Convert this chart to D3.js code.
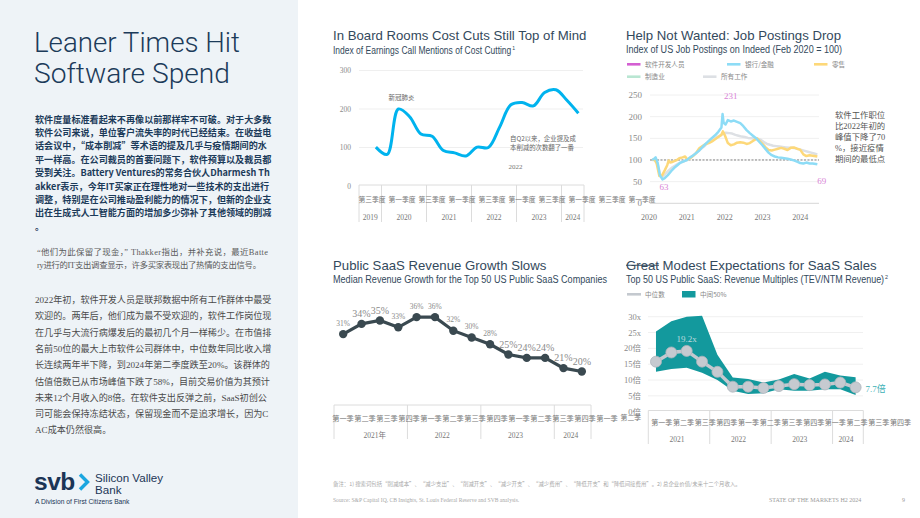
<!DOCTYPE html>
<html>
<head>
<meta charset="utf-8">
<script src="https://cdn.jsdelivr.net/npm/d3@7"></script>
<style>
body { margin: 0; background: #fff; }
svg { display: block; }
</style>
</head>
<body>
<div id="page"></div>
<script>
// ---------- text on the left
var pageTitle = ["Leaner Times Hit", "Software Spend"];
var introLines = [
    "软件度量标准看起来不再像以前那样牢不可破。对于大多数",
    "软件公司来说，单位客户流失率的时代已经结束。在收益电",
    "话会议中，“成本削减”等术语的提及几乎与疫情期间的水",
    "平一样高。在公司裁员的首要问题下，软件预算以及裁员都",
    "受到关注。Battery Ventures的常务合伙人Dharmesh Th",
    "akker表示，今年IT买家正在理性地对一些技术的支出进行",
    "调整，特别是在公司推动盈利能力的情况下，但新的企业支",
    "出在生成式人工智能方面的增加多少弥补了其他领域的削减",
    "。"
];
var quoteLines = [
    "“他们为此保留了现金，” Thakker指出，并补充说，最近Batte",
    "ry进行的IT支出调查显示，许多买家表现出了热情的支出信号。"
];
var bodyLines = [
    "2022年初，软件开发人员是联邦数据中所有工作群体中最受",
    "欢迎的。两年后，他们成为最不受欢迎的，软件工作岗位现",
    "在几乎与大流行病爆发后的最初几个月一样稀少。在市值排",
    "名前50位的最大上市软件公司群体中，中位数年同比收入增",
    "长连续两年半下降，到2024年第二季度跌至20%。该群体的",
    "估值倍数已从市场峰值下跌了58%，目前交易价值为其预计",
    "未来12个月收入的8倍。在软件支出反弹之前，SaaS初创公",
    "司可能会保持冻结状态，保留现金而不是追求增长，因为C",
    "AC成本仍然很高。"
];

// ---------- chart 1: earnings call mentions of cost cutting
var costQuarters = ["2019Q3","2019Q4","2020Q1","2020Q2","2020Q3","2020Q4","2021Q1","2021Q2","2021Q3","2021Q4",
                    "2022Q1","2022Q2","2022Q3","2022Q4","2023Q1","2023Q2","2023Q3","2023Q4","2024Q1","2024Q2"];
var costValues = [null, 101, 82, 200, 180, 135, 129, 92, 86, 78, 101, 100, 153, 211, 217, 208, 243, 250, 222, 189];
var costYears = ["2019","2020","2021","2022","2023","2024"];
var costTicks = [0, 100, 200, 300];
var costAxisLabels = ["第三季度","第一季度","第三季度","第一季度","第三季度","第一季度","第三季度","第一季度","第三季度","第一季度"];

// ---------- chart 2: job postings on Indeed
var jobLegend = ["软件开发人员","银行/金融","零售","制造业","所有工作"];
var bankPostings = [
    ["2020-02-01",100],["2020-02-20",103],["2020-03-05",106],["2020-03-25",93],["2020-04-15",65],["2020-05-10",55],
    ["2020-06-01",58],["2020-07-01",65],["2020-08-01",74],["2020-09-01",82],["2020-10-01",88],["2020-11-01",94],
    ["2020-12-01",97],["2021-01-01",100],["2021-02-01",106],["2021-03-01",110],["2021-04-01",116],["2021-05-01",122],
    ["2021-06-01",130],["2021-07-01",137],["2021-08-01",144],["2021-09-01",151],["2021-10-01",157],["2021-11-01",165],
    ["2021-12-01",175],["2021-12-12",206],["2021-12-22",186],["2022-01-10",182],["2022-02-01",192],["2022-03-01",189],
    ["2022-04-01",191],["2022-05-01",188],["2022-06-01",185],["2022-07-01",178],["2022-08-01",169],["2022-09-01",162],
    ["2022-10-01",156],["2022-11-01",150],["2022-12-01",142],["2023-01-01",134],["2023-02-01",125],["2023-03-01",117],
    ["2023-04-01",111],["2023-05-01",108],["2023-06-01",106],["2023-07-01",105],["2023-08-01",104],["2023-09-01",103],
    ["2023-10-01",101],["2023-11-01",99],["2023-12-01",96],["2024-01-01",93],["2024-02-01",92],["2024-03-01",94],
    ["2024-04-01",92],["2024-05-01",92],["2024-06-15",90]
];
var retailPostings = [
    ["2020-02-01",101],["2020-02-25",100],["2020-03-15",92],["2020-04-10",63],["2020-05-05",64],["2020-06-01",76],
    ["2020-06-25",88],["2020-07-10",99],["2020-07-25",94],["2020-08-20",96],["2020-09-20",99],["2020-10-20",104],
    ["2020-11-20",106],["2020-12-15",108],["2021-01-05",101],["2021-02-01",104],["2021-03-01",109],["2021-04-01",116],
    ["2021-05-01",127],["2021-06-01",132],["2021-07-01",137],["2021-08-01",139],["2021-09-01",143],["2021-10-01",148],
    ["2021-11-01",153],["2021-12-01",158],["2021-12-15",166],["2022-01-05",156],["2022-02-01",139],["2022-03-01",134],
    ["2022-04-01",136],["2022-05-01",140],["2022-06-01",141],["2022-07-01",140],["2022-08-01",137],["2022-09-01",139],
    ["2022-10-01",144],["2022-11-10",150],["2022-12-01",145],["2023-01-01",137],["2023-02-01",129],["2023-03-01",123],
    ["2023-04-01",122],["2023-05-01",124],["2023-06-01",126],["2023-07-01",128],["2023-08-01",126],["2023-09-01",123],
    ["2023-10-01",128],["2023-11-01",129],["2023-12-01",126],["2024-01-01",124],["2024-02-01",113],["2024-03-01",109],
    ["2024-04-01",111],["2024-05-01",110],["2024-06-15",108]
];
var allPostings = [
    ["2020-02-01",100],["2020-03-01",100],["2020-03-25",90],["2020-04-20",63],["2020-05-15",62],["2020-06-15",70],
    ["2020-07-15",77],["2020-08-15",83],["2020-09-15",88],["2020-10-15",92],["2020-11-15",95],["2020-12-15",98],
    ["2021-01-15",101],["2021-02-15",107],["2021-03-15",113],["2021-04-15",119],["2021-05-15",125],["2021-06-15",131],
    ["2021-07-15",138],["2021-08-15",143],["2021-09-15",148],["2021-10-15",152],["2021-11-15",156],["2021-12-15",160],
    ["2022-01-15",163],["2022-02-15",162],["2022-03-15",161],["2022-04-15",158],["2022-05-15",156],["2022-06-15",154],
    ["2022-07-15",153],["2022-08-15",151],["2022-09-15",150],["2022-10-15",150],["2022-11-15",149],["2022-12-15",147],
    ["2023-01-15",141],["2023-02-15",137],["2023-03-15",135],["2023-04-15",133],["2023-05-15",132],["2023-06-15",131],
    ["2023-07-15",130],["2023-08-15",129],["2023-09-15",128],["2023-10-15",128],["2023-11-15",127],["2023-12-15",125],
    ["2024-01-15",123],["2024-02-15",121],["2024-03-15",119],["2024-04-15",117],["2024-05-15",115],["2024-06-15",113]
];
var devCallouts = [["2022-03-01",231],["2020-05-25",63],["2024-07-28",69]];
var jobTicks = [0, 50, 100, 150, 200, 250];
var jobYears = [2020, 2021, 2022, 2023, 2024];
var jobNote = ["软件工作职位","比2022年初的","峰值下降了70","%，接近疫情","期间的最低点"];

// ---------- chart 3: median revenue growth
var revQuarters = ["2021Q1","2021Q2","2021Q3","2021Q4","2022Q1","2022Q2","2022Q3","2022Q4",
                   "2023Q1","2023Q2","2023Q3","2023Q4","2024Q1","2024Q2"];
var revGrowth = [31, 34, 35, 33, 36, 36, 32, 30, 28, 25, 24, 24, 21, 20];
var revYears = ["2021年","2022","2023","2024"];
var revAxisLabels = ["第一季","第二季","第三季","第四季","第一季","第二季","第三季","第四季","第一季","第二季","第三季","第四季","第一季"];

// ---------- chart 4: revenue multiples
var multQuarters = revQuarters.slice();
var multMedian = [15.8, 18.7, 19.2, 15.8, 12.6, 7.9, 7.9, 7.5, 8.1, 8.7, 8.4, 8.6, 9.2, 7.7];
var multHigh = [25.3, 28.6, 30.0, 30.3, 18.0, 10.8, 10.3, 9.2, 10.2, 11.9, 10.5, 12.6, 11.4, 10.9];
var multLow = [12.6, 13.5, 13.9, 12.3, 10.0, 6.6, 5.6, 5.8, 7.1, 6.6, 6.6, 7.1, 7.1, 5.3];
var multTicks = [0, 5, 10, 15, 20, 25, 30];
var multTickText = ["0倍","5倍","10倍","15倍","20倍","25x","30x"];
var multYears = ["2021","2022","2023","2024"];
var multAxisLabels = ["第一季","第二季","第三季","第四季","第一季","第二季","第三季","第四季","第一季","第二季","第三季","第四季"];

var sans = '"Liberation Sans", Arial, sans-serif';
var serif = '"Liberation Serif", "Noto Sans CJK SC", serif';
var cjk = '"Noto Sans CJK SC", sans-serif';
var navy = "#1c3b5a", slate = "#33495c", axisGrey = "#8a8a8a", boxLine = "#dcdcdc";

var svg = d3.select("#page").append("svg").attr("width", 920).attr("height", 518);

function txt(x, y, s, size, family, fill) {
    return svg.append("text").attr("x", x).attr("y", y)
        .attr("font-size", size).attr("font-family", family).attr("fill", fill).text(s);
}

// ---------- left panel
svg.append("rect").attr("width", 298).attr("height", 518).attr("fill", "#eef3f7");

svg.selectAll(".ptitle").data(pageTitle).enter().append("text")
    .attr("x", 34).attr("y", function(d, i) { return 52 + i * 31; })
    .attr("font-family", '"Roboto", "Liberation Sans", sans-serif').attr("font-weight", 300)
    .attr("font-size", 27.5).attr("fill", navy)
    .attr("textLength", function(d, i) { return i ? 196 : 206; }).attr("lengthAdjust", "spacingAndGlyphs")
    .text(function(d) { return d; });

svg.selectAll(".intro").data(introLines).enter().append("text")
    .attr("x", 35).attr("y", function(d, i) { return 122.5 + i * 13.4; })
    .attr("font-family", cjk).attr("font-size", 9.1).attr("font-weight", "bold").attr("fill", navy)
    .text(function(d) { return d; });

svg.selectAll(".quote").data(quoteLines).enter().append("text")
    .attr("x", 37).attr("y", function(d, i) { return 255 + i * 12.5; })
    .attr("font-family", serif).attr("font-size", 8.4).attr("fill", "#5a5a5a")
    .attr("textLength", function(d, i) { return i ? 224 : 231; }).attr("lengthAdjust", "spacing")
    .text(function(d) { return d; });

svg.selectAll(".body").data(bodyLines).enter().append("text")
    .attr("x", 35).attr("y", function(d, i) { return 303 + i * 16.3; })
    .attr("font-family", serif).attr("font-size", 9.1).attr("fill", "#4a4a4a")
    .text(function(d) { return d; });

// logo
txt(34, 490, "svb", 24.5, sans, "#1b3556").attr("font-weight", "bold").attr("letter-spacing", -0.5);
svg.append("path").attr("d", "M80,474.5 L87.5,482 L80,489.5")
    .attr("fill", "none").attr("stroke", "#1ba6e0").attr("stroke-width", 3.4);
txt(95, 482, "Silicon Valley", 11.6, sans, "#1b3556");
txt(95, 493.5, "Bank", 11.6, sans, "#1b3556");
txt(35, 504.3, "A Division of First Citizens Bank", 6.7, sans, "#1b3556");

// ---------- chart titles (subtitle footnote marks ride along as tspans)
function subtitle(x, y, sub, sup, width) {
    var t = txt(x, y, sub, 10, sans, slate)
        .attr("textLength", width).attr("lengthAdjust", "spacingAndGlyphs");
    if (sup) {
        t.append("tspan").attr("dx", 1).attr("dy", -4).attr("font-size", 6).text(sup);
    }
    return t;
}
txt(333, 40.3, "In Board Rooms Cost Cuts Still Top of Mind", 13.2, sans, slate);
subtitle(333, 53.8, "Index of Earnings Call Mentions of Cost Cutting", "1", 182);
txt(626, 39.7, "Help Not Wanted: Job Postings Drop", 13.2, sans, slate);
subtitle(626, 53.2, "Index of US Job Postings on Indeed (Feb 2020 = 100)", null, 216);
txt(333, 269.7, "Public SaaS Revenue Growth Slows", 13.2, sans, slate);
subtitle(333, 283.2, "Median Revenue Growth for the Top 50 US Public SaaS Companies", null, 274);

// "Great" struck through, then the rest of the title
var great = txt(626, 269.7, "Great", 13.2, sans, slate);
var gw = great.node().getComputedTextLength();
svg.append("line").attr("x1", 626).attr("x2", 626 + gw).attr("y1", 265.3).attr("y2", 265.3)
    .attr("stroke", slate).attr("stroke-width", 1.1);
txt(626 + gw + 3.6, 269.7, "Modest Expectations for SaaS Sales", 13.2, sans, slate);
subtitle(626, 283.2, "Top 50 US Public SaaS: Revenue Multiples (TEV/NTM Revenue)", "2", 262);

// ---------- chart 1
var c1x = d3.scaleBand().domain(costQuarters).range([359, 584]);
var c1y = d3.scaleLinear().domain([0, 300]).range([186, 70.5]);
var g1 = svg.append("g");

g1.selectAll(".grid").data(costTicks.slice(1)).enter().append("line")
    .attr("x1", 359).attr("x2", 583)
    .attr("y1", function(d) { return c1y(d); }).attr("y2", function(d) { return c1y(d); })
    .attr("stroke", "#efefef").attr("stroke-width", 1);
g1.selectAll(".tick").data(costTicks).enter().append("text")
    .attr("x", 351).attr("y", function(d) { return c1y(d) + 2.6; })
    .attr("text-anchor", "end").attr("font-family", serif).attr("font-size", 7.5).attr("fill", axisGrey)
    .text(function(d) { return d; });

g1.append("line").attr("x1", 359).attr("x2", 584).attr("y1", 185).attr("y2", 185)
    .attr("stroke", boxLine);
costYears.forEach(function(yr, i) {
    var qs = costQuarters.filter(function(q) { return q.slice(0, 4) === yr; });
    var x0 = c1x(qs[0]), x1 = c1x(qs[qs.length - 1]) + c1x.bandwidth();
    g1.append("line").attr("x1", x0).attr("x2", x0).attr("y1", 185).attr("y2", 222).attr("stroke", boxLine);
    if (i === costYears.length - 1) {
        g1.append("line").attr("x1", x1).attr("x2", x1).attr("y1", 185).attr("y2", 222).attr("stroke", boxLine);
    }
    g1.append("text").attr("x", (x0 + x1) / 2).attr("y", 219.8).attr("text-anchor", "middle")
        .attr("font-family", serif).attr("font-size", 7.5).attr("fill", "#777").text(yr);
});
var c1lab = d3.scaleBand().domain(d3.range(costAxisLabels.length)).range([357, 657]);
g1.selectAll(".qlab").data(costAxisLabels).enter().append("text")
    .attr("x", function(d, i) { return c1lab(i) + c1lab.bandwidth() / 2; }).attr("y", 201.7)
    .attr("text-anchor", "middle").attr("font-family", cjk).attr("font-size", 6.8).attr("fill", "#777")
    .text(function(d) { return d; });

var costLine = d3.line()
    .defined(function(d) { return d != null; })
    .x(function(d, i) { return c1x(costQuarters[i]) + c1x.bandwidth() / 2; })
    .y(function(d) { return c1y(d); })
    .curve(d3.curveCatmullRom);
g1.append("path").attr("d", costLine(costValues))
    .attr("fill", "none").attr("stroke", "#00b3ee").attr("stroke-width", 3);

txt(c1x("2020Q2") + c1x.bandwidth() / 2 + 3, 99.5, "新冠肺炎", 6.5, cjk, "#666").attr("text-anchor", "middle");
txt(510, 141.3, "自Q2以来，企业提及成", 6.4, cjk, "#666");
txt(510, 150, "本削减的次数翻了一番", 6.4, cjk, "#666");
txt(508.5, 168.5, "2022", 7, serif, "#777");

// ---------- chart 2
var parseDay = d3.timeParse("%Y-%m-%d");
var c2x = d3.scaleTime().domain([new Date(2020, 0, 1), new Date(2024, 6, 1)]).range([649, 819]);
var c2y = d3.scaleLinear().domain([0, 250]).range([203.3, 95]);
var g2 = svg.append("g");

g2.selectAll(".grid").data(jobTicks.slice(1)).enter().append("line")
    .attr("x1", 650).attr("x2", 819)
    .attr("y1", function(d) { return c2y(d); }).attr("y2", function(d) { return c2y(d); })
    .attr("stroke", "#f0f0f0");
g2.append("line").attr("x1", 650).attr("x2", 819).attr("y1", c2y(0)).attr("y2", c2y(0)).attr("stroke", "#d6d6d6");
g2.selectAll(".tick").data(jobTicks).enter().append("text")
    .attr("x", 642).attr("y", function(d) { return c2y(d) + 3; })
    .attr("text-anchor", "end").attr("font-family", serif).attr("font-size", 9).attr("fill", axisGrey)
    .text(function(d) { return d; });
g2.selectAll(".year").data(jobYears).enter().append("text")
    .attr("x", function(d) { return c2x(new Date(d, 0, 1)); }).attr("y", 219.5)
    .attr("text-anchor", "middle").attr("font-family", serif).attr("font-size", 8).attr("fill", "#777")
    .text(function(d) { return d; });
g2.append("line").attr("x1", 650).attr("x2", 819).attr("y1", c2y(100)).attr("y2", c2y(100))
    .attr("stroke", "#666").attr("stroke-width", 0.8).attr("stroke-dasharray", "2,1.5");

var jobLine = d3.line()
    .x(function(d) { return c2x(parseDay(d[0])); })
    .y(function(d) { return c2y(d[1]); });
[[allPostings, "#dde0e4"], [retailPostings, "#fdd879"], [bankPostings, "#8ddcf6"]].forEach(function(s) {
    g2.append("path").attr("d", jobLine(s[0])).attr("fill", "none")
        .attr("stroke", s[1]).attr("stroke-width", 2.5).attr("stroke-linejoin", "round");
});

// legend
var legendColors = ["#d45fd2", "#8ddcf6", "#fdd879", "#b9e6d2", "#dde0e4"];
var legendPos = [[627, 64.3], [727, 64.3], [814, 64.3], [627, 76.7], [703, 76.7]];
jobLegend.forEach(function(name, i) {
    var p = legendPos[i];
    g2.append("line").attr("x1", p[0]).attr("x2", p[0] + 13.5).attr("y1", p[1]).attr("y2", p[1])
        .attr("stroke", legendColors[i]).attr("stroke-width", 2.6);
    g2.append("text").attr("x", p[0] + 18).attr("y", p[1] + 2.4)
        .attr("font-family", cjk).attr("font-size", 6.6).attr("fill", "#888").text(name);
});

// software developer callouts
var calloutDy = [-4.5, 14, 11];
g2.selectAll(".callout").data(devCallouts).enter().append("text")
    .attr("x", function(d) { return c2x(parseDay(d[0])); })
    .attr("y", function(d, i) { return c2y(d[1]) + calloutDy[i]; })
    .attr("text-anchor", "middle").attr("font-family", serif).attr("font-size", 9).attr("fill", "#d884d6")
    .text(function(d) { return d[1]; });

g2.selectAll(".note").data(jobNote).enter().append("text")
    .attr("x", 835).attr("y", function(d, i) { return 117.5 + i * 11.2; })
    .attr("font-family", serif).attr("font-size", 8.4).attr("fill", "#555")
    .text(function(d) { return d; });

// ---------- chart 3
var c3x = d3.scaleBand().domain(revQuarters).range([334, 591]);
var c3y = d3.scaleLinear().domain([10, 40]).range([405.5, 303.5]);
var g3 = svg.append("g");
var revBig = [1, 2, 9, 10, 11, 12, 13];

g3.append("line").attr("x1", 334).attr("x2", 591).attr("y1", 405).attr("y2", 405).attr("stroke", boxLine);
revYears.forEach(function(yr, i) {
    var qs = revQuarters.filter(function(q) { return q.slice(0, 4) === yr.slice(0, 4); });
    var x0 = c3x(qs[0]), x1 = c3x(qs[qs.length - 1]) + c3x.bandwidth();
    g3.append("line").attr("x1", x0).attr("x2", x0).attr("y1", 405).attr("y2", 439).attr("stroke", boxLine);
    if (i === revYears.length - 1) {
        g3.append("line").attr("x1", x1).attr("x2", x1).attr("y1", 405).attr("y2", 439).attr("stroke", boxLine);
    }
    g3.append("text").attr("x", (x0 + x1) / 2 + (i === 0 ? 4 : -2)).attr("y", 437.8).attr("text-anchor", "middle")
        .attr("font-family", serif).attr("font-size", 7.5).attr("fill", "#777").text(yr);
});
var c3lab = d3.scaleBand().domain(d3.range(revAxisLabels.length)).range([332, 618]);
g3.selectAll(".qlab").data(revAxisLabels).enter().append("text")
    .attr("x", function(d, i) { return c3lab(i) + c3lab.bandwidth() / 2; }).attr("y", 421)
    .attr("text-anchor", "middle").attr("font-family", cjk).attr("font-size", 7.2).attr("fill", "#777")
    .text(function(d) { return d; });

var revLine = d3.line()
    .x(function(d, i) { return c3x(revQuarters[i]) + c3x.bandwidth() / 2; })
    .y(function(d) { return c3y(d); });
g3.append("path").attr("d", revLine(revGrowth)).attr("fill", "none")
    .attr("stroke", "#3a4950").attr("stroke-width", 3.2);
g3.selectAll(".dot").data(revGrowth).enter().append("circle")
    .attr("cx", function(d, i) { return c3x(revQuarters[i]) + c3x.bandwidth() / 2; })
    .attr("cy", function(d) { return c3y(d); })
    .attr("r", 4.2).attr("fill", "#3a4950");
g3.selectAll(".vlab").data(revGrowth).enter().append("text")
    .attr("x", function(d, i) { return c3x(revQuarters[i]) + c3x.bandwidth() / 2; })
    .attr("y", function(d, i) { return c3y(d) - (revBig.indexOf(i) >= 0 ? 7 : 8.5); })
    .attr("text-anchor", "middle").attr("font-family", serif)
    .attr("font-size", function(d, i) { return revBig.indexOf(i) >= 0 ? 10 : 7.5; })
    .attr("fill", "#8a8a8a")
    .text(function(d) { return d + "%"; });

// ---------- chart 4
var c4x = d3.scaleBand().domain(multQuarters).range([648.3, 863.3]);
var c4y = d3.scaleLinear().domain([0, 30]).range([411.7, 316.7]);
var g4 = svg.append("g");
var cx4 = function(i) { return c4x(multQuarters[i]) + c4x.bandwidth() / 2; };

g4.selectAll(".grid").data(multTicks.slice(1)).enter().append("line")
    .attr("x1", 648).attr("x2", 863)
    .attr("y1", function(d) { return c4y(d); }).attr("y2", function(d) { return c4y(d); })
    .attr("stroke", "#f0f0f0");
g4.selectAll(".tick").data(multTicks).enter().append("text")
    .attr("x", 641).attr("y", function(d) { return c4y(d) + 3; })
    .attr("text-anchor", "end").attr("font-family", serif).attr("font-size", 8.5).attr("fill", axisGrey)
    .text(function(d, i) { return multTickText[i]; });
txt(641, 419.5, "第二季", 6.8, cjk, "#777").attr("text-anchor", "end");

g4.append("line").attr("x1", 648.3).attr("x2", 863.3).attr("y1", 410.5).attr("y2", 410.5).attr("stroke", boxLine);
multYears.forEach(function(yr, i) {
    var qs = multQuarters.filter(function(q) { return q.slice(0, 4) === yr; });
    var x0 = c4x(qs[0]), x1 = c4x(qs[qs.length - 1]) + c4x.bandwidth();
    g4.append("line").attr("x1", x0).attr("x2", x0).attr("y1", 410.5).attr("y2", 444).attr("stroke", boxLine);
    if (i === multYears.length - 1) {
        g4.append("line").attr("x1", x1).attr("x2", x1).attr("y1", 410.5).attr("y2", 444).attr("stroke", boxLine);
    }
    g4.append("text").attr("x", (x0 + x1) / 2 - 2).attr("y", 442).attr("text-anchor", "middle")
        .attr("font-family", serif).attr("font-size", 7.5).attr("fill", "#777").text(yr);
});
var c4lab = d3.scaleBand().domain(d3.range(multAxisLabels.length)).range([650.9, 911.3]);
g4.selectAll(".qlab").data(multAxisLabels).enter().append("text")
    .attr("x", function(d, i) { return c4lab(i) + c4lab.bandwidth() / 2; }).attr("y", 425.4)
    .attr("text-anchor", "middle").attr("font-family", cjk).attr("font-size", 7).attr("fill", "#777")
    .text(function(d) { return d; });

var band = d3.area()
    .x(function(d, i) { return cx4(i); })
    .y0(function(d, i) { return c4y(multLow[i]); })
    .y1(function(d) { return c4y(d); });
g4.append("path").attr("d", band(multHigh)).attr("fill", "#13999d");

var medLine = d3.line()
    .x(function(d, i) { return cx4(i); })
    .y(function(d) { return c4y(d); });
g4.append("path").attr("d", medLine(multMedian)).attr("fill", "none")
    .attr("stroke", "#c4c9cf").attr("stroke-width", 3.5);
g4.selectAll(".dot").data(multMedian).enter().append("circle")
    .attr("cx", function(d, i) { return cx4(i); }).attr("cy", function(d) { return c4y(d); })
    .attr("r", 5.5).attr("fill", "#c6cad0").attr("stroke", "#aeb5bc").attr("stroke-width", 0.8);

txt(cx4(2), c4y(multMedian[2]) - 9, multMedian[2] + "x", 9, serif, "#bcdadd").attr("text-anchor", "middle");
txt(cx4(13) + 10, c4y(multMedian[13]) + 4.5, multMedian[13] + "倍", 9, serif, "#3cb1b6");

// legend
g4.append("line").attr("x1", 627).attr("x2", 641).attr("y1", 294.3).attr("y2", 294.3)
    .attr("stroke", "#c4c9cf").attr("stroke-width", 2.6);
txt(645, 296.8, "中位数", 6.6, cjk, "#888");
g4.append("rect").attr("x", 682).attr("y", 291).attr("width", 13.5).attr("height", 6.5).attr("fill", "#13999d");
txt(700, 296.8, "中间50%", 6.6, cjk, "#888");

// ---------- footer
txt(333, 485.5, "备注：1) 搜索词包括“削减成本”、“减少支出”、“削减开支”、“减少开支”、“减少费用”、“降低开支”和“降低间接费用”。2) 总企业价值/未来十二个月收入。", 5.4, cjk, "#a8a8a8");
txt(333, 502, "Source: S&P Capital IQ, CB Insights, St. Louis Federal Reserve and SVB analysis.", 5.6, serif, "#a8a8a8");
txt(769, 502, "STATE OF THE MARKETS H2 2024", 6, serif, "#9a9a9a");
txt(902, 502, "9", 6, serif, "#9a9a9a");
</script>
</body>
</html>
